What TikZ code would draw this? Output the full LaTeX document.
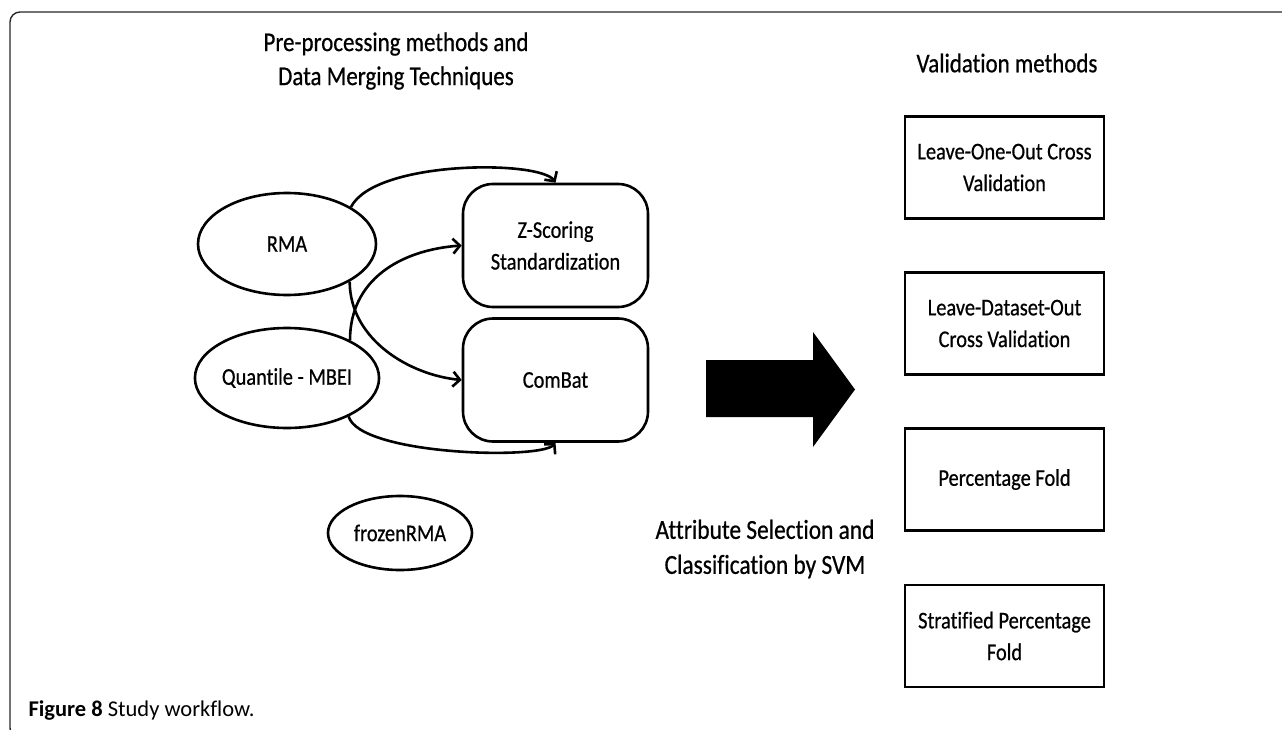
\documentclass[tikz,border=0pt]{standalone}
\usepackage{fontspec}
\setmainfont{Carlito}[FakeStretch=0.85, FakeBold=0.6, Ligatures=NoCommon]
\newfontfamily\capfont{Carlito}[Ligatures=NoCommon]
\usetikzlibrary{shapes.geometric,arrows.meta}
\begin{document}
\begin{tikzpicture}[x=1pt,y=-1pt,
  every node/.style={font=\fontsize{24}{31.7}\selectfont, align=center},
  oval/.style={draw, ellipse, line width=2.6pt, inner sep=0pt},
  rbox/.style={draw, rectangle, rounded corners=30pt, line width=2.6pt, minimum width=185pt, minimum height=123pt, inner sep=0pt},
  vbox/.style={draw, rectangle, line width=2.6pt, minimum width=199pt, minimum height=102pt, inner sep=0pt},
  flow/.style={line width=2.6pt, -{Straight Barb[length=7pt,width=15pt,line width=2.6pt]}},
  hdr/.style={font=\fontsize{27}{34}\selectfont}
]
\useasboundingbox (0,0) rectangle (1282,730);
% frame
\draw[line width=1.4pt, black!85, rounded corners=10pt] (1300,12) -- (10,12) -- (10,738) -- (60,738);
% titles
\node[hdr] (t1) at (396,61) {Pre-processing methods and\\Data Merging Techniques};
\node[hdr] (t2) at (1007,63) {Validation methods};
% left nodes
\node[oval, minimum width=178pt, minimum height=102pt] (rma) at (287,244) {RMA};
\node[oval, minimum width=178pt, minimum height=100pt] (q) at (287,378) {Quantile - MBEI};
\node[oval, minimum width=144pt, minimum height=74pt] (fr) at (400,533) {frozenRMA};
\node[rbox] (zs) at (555.5,245.5) {Z-Scoring\\Standardization};
\node[rbox] (cb) at (555.5,380) {ComBat};
% connectors
\draw[flow] (rma.30) .. controls (375,160) and (540,160) .. (zs.north);
\draw[flow] (q.31) .. controls (350,280) and (400,250) .. (zs.west);
\draw[flow] (rma.-31) .. controls (350,340) and (410,375) .. (cb.west);
\draw[flow] (q.-32) .. controls (360,455) and (540,460) .. (cb.south);
% big arrow
\fill (706,360) -- (813,360) -- (813,332) -- (855,389.5) -- (813,447) -- (813,417) -- (706,417) -- cycle;
\node[hdr, font=\fontsize{27.5}{35}\selectfont] (as) at (765,549) {Attribute Selection and\\Classification by SVM};
% validation boxes
\node[vbox] (v1) at (1004.5,167.5) {Leave-One-Out Cross\\Validation};
\node[vbox] (v2) at (1004.5,323.5) {Leave-Dataset-Out\\Cross Validation};
\node[vbox] (v3) at (1004.5,479.5) {Percentage Fold};
\node[vbox] (v4) at (1004.5,636) {Stratified Percentage\\Fold};
% caption
\node[anchor=west, font=\capfont\fontsize{22.5}{26}\selectfont] (cap) at (25,711) {\textbf{Figure 8} Study workflow.};
\end{tikzpicture}
\end{document}
